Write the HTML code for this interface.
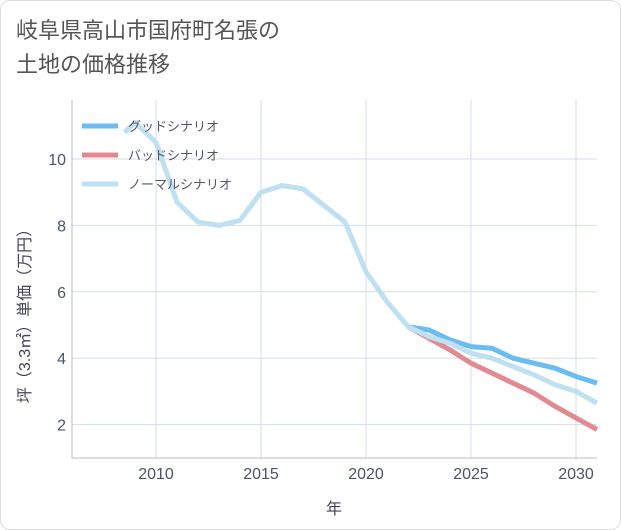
<!DOCTYPE html>
<html><head><meta charset="utf-8"><style>
body{margin:0;background:#fff;font-family:"Liberation Sans","Noto Sans CJK JP",sans-serif;}
#card{position:absolute;left:0;top:0;width:619px;height:528px;border:1px solid #ddd;border-radius:10px;background:#fff;}
#title{position:absolute;left:16px;top:14px;font-size:22px;line-height:34px;color:#555;}
</style></head><body>
<div id="card"></div>
<div id="title">岐阜県高山市国府町名張の<br>土地の価格推移</div>
<svg id="chart" width="621" height="530" style="position:absolute;left:0;top:0"></svg>
<script>
const years=[2008.5,2009,2010,2010.5,2011,2012,2013,2014,2015,2016,2017,2018,2019,2020,2021,2022,2023,2024,2025,2026,2027,2028,2029,2030,2031];
const normal=[10.8,11.1,10.5,9.6,8.7,8.1,8.0,8.15,9.0,9.2,9.1,8.6,8.1,6.6,5.7,4.95,4.65,4.45,4.15,4.0,3.75,3.5,3.2,3.0,2.65];
const fYears=[2022,2023,2024,2025,2026,2027,2028,2029,2030,2031];
const good=[4.95,4.85,4.55,4.35,4.3,4.0,3.85,3.7,3.45,3.25];
const bad=[4.95,4.6,4.25,3.85,3.55,3.25,2.95,2.55,2.2,1.85];
const xTicks=[2010,2015,2020,2025,2030];
const yTicks=[2,4,6,8,10];
const NS="http://www.w3.org/2000/svg",svg=document.getElementById('chart');
const X=v=>72+(v-2006)*21, Y=v=>491-v*33.2;
function mk(t,a){const e=document.createElementNS(NS,t);for(const k in a)e.setAttribute(k,a[k]);svg.appendChild(e);return e;}
xTicks.forEach(t=>{const l=mk('line',{x1:X(t),x2:X(t),y1:100,y2:458,stroke:'#d5dde5'});


const tx=mk('text',{x:X(t),y:479,'text-anchor':'middle','font-size':16,fill:'#4a5566'});tx.textContent=t;

});
yTicks.forEach(t=>{const l=mk('line',{x1:72,x2:597,y1:Y(t),y2:Y(t),stroke:'#d5dde5'});


const tx=mk('text',{x:66,y:Y(t)+6,'text-anchor':'end','font-size':16,fill:'#4a5566'});tx.textContent=t;

});
const ax=mk('line',{x1:72,x2:72,y1:100,y2:458,stroke:'#bbb'});


const bx=mk('line',{x1:72,x2:597,y1:458,y2:458,stroke:'#bbb'});


function line(xs,ys,c,n){const p=mk('polyline',{points:xs.map((x,i)=>X(x)+','+Y(ys[i])).join(' '),fill:'none',stroke:c,'stroke-width':5,'stroke-linejoin':'round'});

}
line(fYears,good,'#6bbcf0','good-scenario-line');
line(fYears,bad,'#e08a92','bad-scenario-line');
line(years,normal,'#bfe0f0','normal-scenario-line');
const leg=[['グッドシナリオ','#6bbcf0'],['バッドシナリオ','#e08a92'],['ノーマルシナリオ','#bfe0f0']];
leg.forEach((d,i)=>{const y=126+i*29;const l=mk('line',{x1:82,x2:118,y1:y,y2:y,stroke:d[1],'stroke-width':5});


const t=mk('text',{x:128,y:y+5,'font-size':13,fill:'#556'});t.textContent=d[0];

});
const xt=mk('text',{x:334,y:514,'text-anchor':'middle','font-size':16,fill:'#445'});xt.textContent='年';


const yt=mk('text',{x:0,y:0,'text-anchor':'middle','font-size':16,fill:'#445',transform:'translate(30,312) rotate(-90)'});yt.textContent='坪（3.3㎡）単価（万円）';


</script>
</body></html>
